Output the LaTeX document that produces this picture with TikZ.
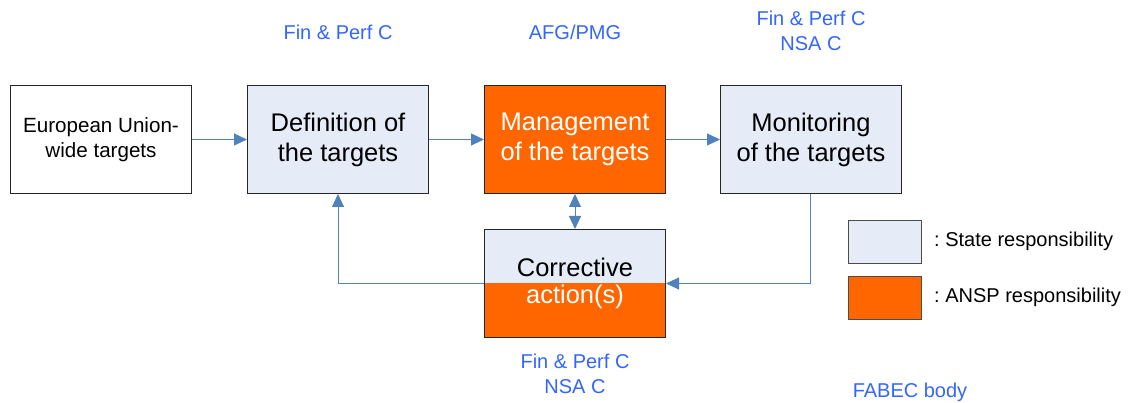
\documentclass[tikz,border=0pt]{standalone}
\usepackage{fontspec}
\setmainfont{Liberation Sans}
\usetikzlibrary{arrows.meta}
\definecolor{statefill}{HTML}{E6ECF7}
\definecolor{ansp}{HTML}{FF6600}
\definecolor{linkblue}{HTML}{4F81BD}
\definecolor{bodyblue}{HTML}{3366FF}
\tikzset{
  box/.style={draw=black!85, line width=1pt, minimum width=181pt, minimum height=108pt,
    anchor=north west, inner sep=0pt, align=center},
  bigtext/.style={font=\fontsize{25.5}{30}\selectfont},
  smalltext/.style={font=\fontsize{20.6}{25}\selectfont},
  link/.style={draw=linkblue, line width=0.9pt, -{Triangle[length=13pt,width=12pt]}},
  dlink/.style={draw=linkblue, line width=0.9pt, {Triangle[length=13pt,width=12pt]}-{Triangle[length=13pt,width=12pt]}},
  body/.style={text=bodyblue, font=\fontsize{20}{25}\selectfont, align=center, inner sep=0pt},
  legbox/.style={draw=black!70, line width=1pt, minimum width=73pt, minimum height=43pt, anchor=north west, inner sep=0pt},
  legtext/.style={font=\fontsize{20}{25}\selectfont, anchor=west, inner sep=0pt}
}
\begin{document}
\begin{tikzpicture}[x=1pt,y=-1pt]
\useasboundingbox (0,0) rectangle (1133,403);

% process boxes
\node[box, smalltext, fill=white] (eu) at (10,85) {European Union-\\wide targets};
\node[box, bigtext, fill=statefill] (def) at (247,85) {Definition of\\the targets};
\node[box, bigtext, fill=ansp, text=white] (mgmt) at (484,85) {Management\\of the targets};
\node[box, bigtext, fill=statefill] (mon) at (720,85) {Monitoring\\of the targets};

% corrective action box: state part on top, ANSP part below
\fill[statefill] (484,229) rectangle (665,283);
\fill[ansp] (484,283) rectangle (665,337);
\node[box, minimum height=108pt] (corr) at (484,229) {};
\node[bigtext, inner sep=0pt] (corrtop) at (575,267) {Corrective};
\node[bigtext, text=white, inner sep=0pt] (corrbot) at (575,297) {action(s)};

% connectors
\coordinate (defturn) at (def.south |- corr.west);
\draw[link] (eu.east) -- (def.west);
\draw[link] (def.east) -- (mgmt.west);
\draw[link] (mgmt.east) -- (mon.west);
\draw[dlink] (mgmt.south) -- (corr.north);
\draw[link] (mon.south) ++(-1,0) coordinate (monfoot) -- (monfoot |- corr.east) -- (corr.east);
\draw[link] (corr.west) -- (defturn) -- (def.south);

% responsible bodies
\node[body] (b1) at (338,32) {Fin \& Perf C};
\node[body] (b2) at (575,32) {AFG/PMG};
\node[body] (b3) at (811,31) {Fin \& Perf C\\NSA C};
\node[body] (b4) at (575,374) {Fin \& Perf C\\NSA C};
\node[body] (b5) at (910,392) {FABEC body};

% legend
\node[legbox, fill=statefill] (ls) at (848,220) {};
\node[legtext] (lst) at (934,241) {:~State responsibility};
\node[legbox, fill=ansp] (la) at (848,276) {};
\node[legtext] (lat) at (934,297) {:~ANSP responsibility};
\end{tikzpicture}
\end{document}
